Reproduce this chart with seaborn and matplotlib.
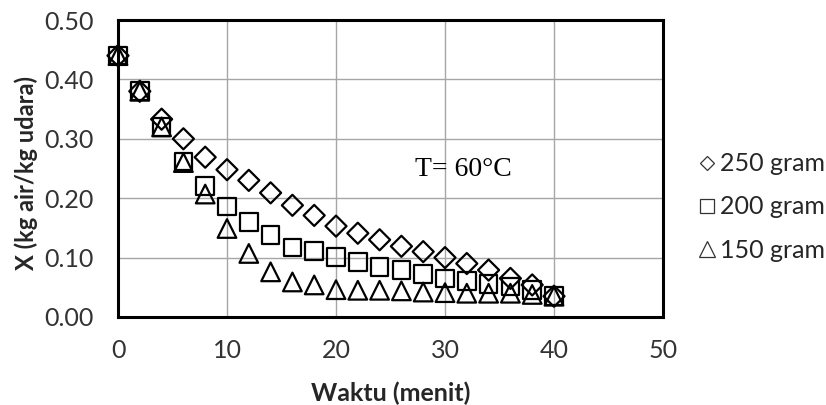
import numpy as np
import pandas as pd
import seaborn as sns
import matplotlib
matplotlib.use("Agg")
import matplotlib.pyplot as plt
from matplotlib.lines import Line2D

waktu = [0, 2, 4, 6, 8, 10, 12, 14, 16, 18, 20, 22, 24, 26, 28, 30, 32, 34, 36, 38, 40]
x_250 = [0.44, 0.38, 0.333, 0.300, 0.269, 0.248, 0.230, 0.209, 0.188, 0.171, 0.153,
         0.141, 0.130, 0.119, 0.110, 0.100, 0.090, 0.079, 0.065, 0.054, 0.035]
x_200 = [0.44, 0.38, 0.320, 0.262, 0.221, 0.186, 0.160, 0.138, 0.117, 0.111, 0.101,
         0.093, 0.084, 0.079, 0.072, 0.065, 0.061, 0.056, 0.051, 0.045, 0.035]
x_150 = [0.44, 0.38, 0.320, 0.260, 0.207, 0.149, 0.107, 0.076, 0.059, 0.054, 0.046,
         0.045, 0.045, 0.044, 0.042, 0.041, 0.040, 0.040, 0.040, 0.038, 0.035]
labels = ["250 gram", "200 gram", "150 gram"]

df = pd.DataFrame({
    "waktu": waktu * 3,
    "X": x_250 + x_200 + x_150,
    "seri": [labels[0]] * len(waktu) + [labels[1]] * len(waktu) + [labels[2]] * len(waktu),
})

sns.set_style("white")
plt.rcParams["font.family"] = ["Lato", "DejaVu Sans"]

W, H = 826, 405
fig = plt.figure(figsize=(W / 100, H / 100), dpi=100)
L, R, T, B = 118, 663, 20, 317
ax = fig.add_axes([L / W, 1 - B / H, (R - L) / W, (B - T) / H])

markers = {labels[0]: "D", labels[1]: "s", labels[2]: "^"}
sizes = {labels[0]: 115, labels[1]: 160, labels[2]: 180}
for lab in labels:
    sub = df[df["seri"] == lab]
    sns.scatterplot(data=sub, x="waktu", y="X", marker=markers[lab], s=sizes[lab],
                    facecolor="none", edgecolor="black", linewidth=1.6, ax=ax,
                    legend=False, zorder=3, clip_on=False)

ax.set_xlim(0, 50)
ax.set_ylim(0, 0.5)
ax.set_xticks(np.arange(0, 51, 10))
ax.set_yticks(np.arange(0, 0.51, 0.1))
ax.set_yticklabels([f"{v:.2f}" for v in np.arange(0, 0.51, 0.1)])
ax.grid(True, color="#a6a6a6", linewidth=1.0)
ax.set_axisbelow(True)
for s in ax.spines.values():
    s.set_color("black")
    s.set_linewidth(2.2)
    s.set_zorder(4)
ax.tick_params(axis="both", which="both", direction="out", length=5.5, width=1,
               color="#8c8c8c", labelsize=18, labelcolor="#333333")
ax.tick_params(axis="x", pad=10)
ax.tick_params(axis="y", pad=12)
ax.set_xlabel("Waktu (menit)", fontsize=18, fontweight="bold", va="center")
ax.set_ylabel("X (kg air/kg udara)", fontsize=17, fontweight="bold", va="center")
ax.xaxis.set_label_coords(0.5, (B - 393) / (B - T))
ax.yaxis.set_label_coords((26 - L) / (R - L), (B - 173) / (B - T))

ax.text(31.7, 0.249, "T= 60°C", family="Liberation Serif", fontsize=20,
        ha="center", va="center", color="black")

handles = [Line2D([], [], linestyle="none", marker=markers[l], markersize=ms,
                  markerfacecolor="none", markeredgecolor="#333333", markeredgewidth=0.9)
           for l, ms in zip(labels, [7.5, 10, 11])]
fig.legend(handles, labels, loc="center left", bbox_to_anchor=(699 / W, 1 - 207 / H),
           frameon=False, fontsize=18, handletextpad=0.25, labelspacing=0.8,
           handlelength=0.6, borderaxespad=0, borderpad=0)

fig.savefig("out.png", dpi=100)
